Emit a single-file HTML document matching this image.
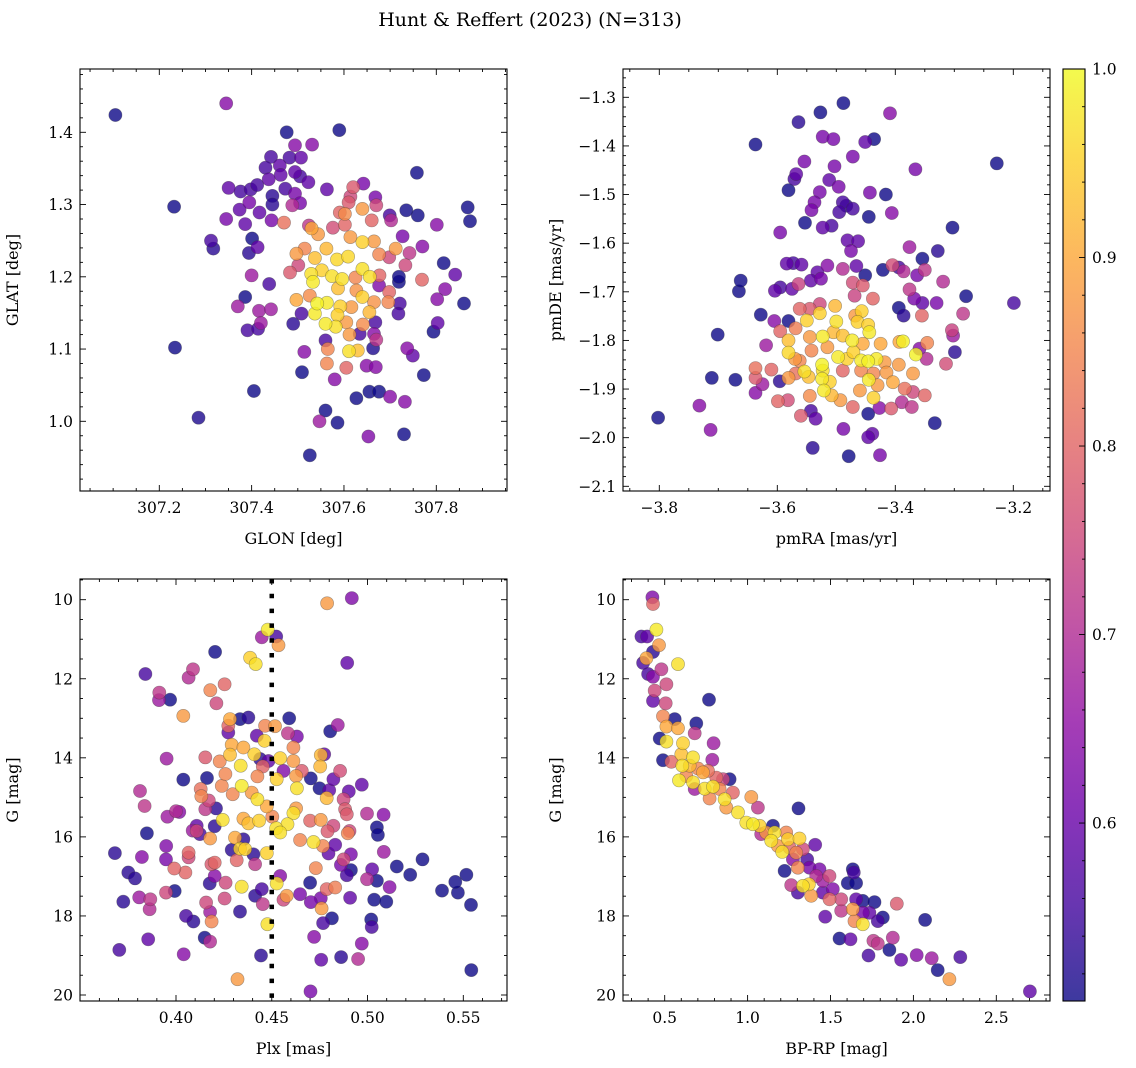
<!DOCTYPE html>
<html><head><meta charset="utf-8"><style>
html,body{margin:0;padding:0;background:#fff;}
svg{display:block;font-family:"DejaVu Serif","Liberation Serif",serif;}
</style></head><body>
<svg id="fig" width="1136" height="1068" viewBox="0 0 1136 1068" xmlns="http://www.w3.org/2000/svg">
<defs>
<linearGradient id="plasma" x1="0" y1="1" x2="0" y2="0">
<stop offset="0" stop-color="#0d0887"/><stop offset="0.1" stop-color="#41049d"/><stop offset="0.2" stop-color="#6a00a8"/><stop offset="0.3" stop-color="#8f0da4"/><stop offset="0.4" stop-color="#b12a90"/><stop offset="0.5" stop-color="#cc4778"/><stop offset="0.6" stop-color="#e16462"/><stop offset="0.7" stop-color="#f2844b"/><stop offset="0.8" stop-color="#fca636"/><stop offset="0.9" stop-color="#fcce25"/><stop offset="1" stop-color="#f0f921"/>
</linearGradient>
</defs>
<text x="530" y="26" font-size="19" text-anchor="middle">Hunt &amp; Reffert (2023) (N=313)</text>
<g id="root"></g>
</svg>
<script>
// Panel 1: GLON vs GLAT
const p1Glon=[307.105,307.345,307.232,307.234,307.285,307.405,307.526,307.560,307.547,307.586,307.653,307.730,307.627,307.655,307.676,307.700,307.732,307.773,307.509,307.580,307.605,307.563,307.649,307.669,307.514,307.737,307.749,307.663,307.794,307.803,307.860,307.819,307.802,307.841,307.769,307.816,307.770,307.801,307.868,307.873,307.760,307.735,307.758,307.590,307.476,307.494,307.531,307.482,307.507,307.442,307.430,307.461,307.463,307.494,307.505,307.523,307.437,307.350,307.376,307.398,307.412,307.445,307.473,307.494,307.395,307.374,307.417,307.445,307.488,307.505,307.345,307.386,307.443,307.470,307.563,307.642,307.620,307.614,307.610,307.668,307.670,307.640,307.602,307.591,307.660,307.699,307.702,307.524,307.576,307.602,307.312,307.317,307.401,307.413,307.394,307.400,307.438,307.386,307.370,307.416,307.442,307.420,307.391,307.414,307.490,307.727,307.742,307.733,307.719,307.719,307.721,307.718,307.698,307.696,307.677,307.698,307.712,307.668,307.665,307.670,
307.530,307.544,307.497,307.515,307.537,307.562,307.585,307.609,307.640,307.665,307.676,307.614,307.529,307.552,307.574,307.596,307.640,307.656,307.625,307.533,307.587,307.627,307.640,307.497,307.526,307.542,307.563,307.537,307.592,307.586,307.616,307.655,307.560,307.582,307.605,307.641,307.612,307.611,307.630,307.565,307.483,307.665,307.508,307.560,307.634,307.501,307.676];
const p1Glat=[1.424,1.440,1.297,1.102,1.005,1.042,0.953,1.015,1.000,0.998,0.979,0.982,1.032,1.041,1.041,1.034,1.027,1.064,1.068,1.058,1.074,1.080,1.077,1.075,1.096,1.101,1.091,1.101,1.124,1.136,1.163,1.183,1.169,1.203,1.196,1.219,1.242,1.272,1.296,1.277,1.285,1.292,1.344,1.403,1.400,1.382,1.383,1.365,1.365,1.366,1.351,1.354,1.341,1.345,1.339,1.331,1.335,1.323,1.318,1.321,1.327,1.312,1.322,1.315,1.303,1.293,1.289,1.300,1.299,1.302,1.280,1.273,1.278,1.275,1.321,1.329,1.324,1.311,1.303,1.310,1.299,1.294,1.287,1.289,1.278,1.285,1.278,1.271,1.268,1.272,1.250,1.239,1.253,1.241,1.233,1.202,1.190,1.172,1.159,1.153,1.155,1.136,1.126,1.128,1.135,1.256,1.233,1.216,1.200,1.193,1.163,1.149,1.179,1.165,1.202,1.227,1.239,1.137,1.121,1.113,
1.267,1.259,1.232,1.239,1.226,1.239,1.224,1.228,1.248,1.249,1.231,1.255,1.204,1.209,1.201,1.197,1.211,1.200,1.199,1.193,1.184,1.181,1.172,1.168,1.174,1.163,1.164,1.149,1.159,1.147,1.158,1.151,1.135,1.131,1.137,1.134,1.120,1.097,1.098,1.100,1.206,1.165,1.149,1.112,1.121,1.216,1.188];
const p1Prob=[0.49,0.64,0.49,0.49,0.52,0.49,0.49,0.49,0.67,0.49,0.63,0.50,0.50,0.50,0.50,0.64,0.64,0.49,0.50,0.64,0.80,0.85,0.64,0.64,0.64,0.64,0.59,0.52,0.50,0.59,0.50,0.64,0.64,0.59,0.80,0.50,0.64,0.64,0.50,0.50,0.50,0.50,0.50,0.50,0.50,0.64,0.64,0.56,0.59,0.56,0.56,0.59,0.59,0.59,0.56,0.59,0.59,0.59,0.56,0.56,0.56,0.53,0.56,0.62,0.62,0.59,0.59,0.53,0.70,0.62,0.62,0.59,0.62,0.82,0.59,0.62,0.78,0.75,0.78,0.62,0.75,0.88,0.86,0.80,0.80,0.56,0.70,0.72,0.76,0.80,0.56,0.53,0.50,0.59,0.53,0.67,0.56,0.50,0.67,0.67,0.67,0.67,0.56,0.56,0.53,0.62,0.72,0.75,0.50,0.46,0.56,0.56,0.80,0.85,0.80,0.75,0.88,0.56,0.64,0.72,
0.90,0.88,0.88,0.85,0.93,0.92,0.96,0.96,0.95,0.88,0.85,0.88,0.97,0.95,0.97,0.97,0.97,0.97,0.85,0.98,0.93,0.87,0.95,0.90,0.86,0.99,0.98,0.98,0.95,0.95,0.88,0.92,0.98,0.97,0.88,0.86,0.88,0.97,0.93,0.85,0.78,0.87,0.56,0.56,0.56,0.75,0.63];

// Panel 2: pmRA vs pmDE
const p2Pmra=[-3.802,-3.732,-3.713,-3.711,-3.671,-3.701,-3.665,-3.662,-3.637,-3.564,-3.527,-3.488,-3.409,-3.523,-3.505,-3.451,-3.436,-3.472,-3.554,-3.503,-3.366,-3.228,-3.568,-3.571,-3.512,-3.496,-3.581,-3.528,-3.443,-3.416,-3.537,-3.542,-3.489,-3.483,-3.495,-3.472,-3.406,-3.445,-3.553,-3.523,-3.508,-3.595,-3.303,-3.481,-3.463,-3.475,-3.376,-3.328,-3.354,-3.584,-3.573,-3.559,-3.515,-3.489,-3.466,-3.421,-3.405,-3.394,-3.386,-3.363,-3.350,-3.319,-3.451,-3.532,-3.543,-3.526,-3.564,-3.604,-3.595,-3.575,-3.472,-3.455,-3.469,-3.438,-3.376,-3.368,-3.354,-3.330,-3.280,-3.199,-3.394,-3.386,-3.355,-3.285,-3.304,-3.302,-3.299,-3.314,-3.346,-3.359,-3.347,-3.333,-3.350,-3.370,-3.372,-3.389,-3.407,-3.427,-3.439,-3.446,-3.426,-3.479,-3.540,-3.488,-3.535,-3.543,-3.560,-3.446,-3.599,-3.582,-3.637,-3.625,-3.637,-3.637,-3.610,-3.596,-3.619,-3.628,-3.605,-3.581,-3.595,
-3.562,-3.545,-3.528,-3.502,-3.457,-3.468,-3.550,-3.528,-3.500,-3.464,-3.446,-3.444,-3.569,-3.581,-3.581,-3.570,-3.545,-3.523,-3.505,-3.489,-3.473,-3.455,-3.425,-3.393,-3.387,-3.542,-3.515,-3.497,-3.482,-3.471,-3.458,-3.446,-3.432,-3.418,-3.365,-3.562,-3.524,-3.523,-3.554,-3.569,-3.581,-3.547,-3.524,-3.511,-3.489,-3.458,-3.437,-3.415,-3.394,-3.370,-3.404,-3.445,-3.521,-3.508,-3.493,-3.460,-3.437,-3.430,-3.384,-3.472,-3.545];
const p2Pmde=[-1.959,-1.934,-1.984,-1.877,-1.881,-1.788,-1.699,-1.677,-1.397,-1.351,-1.331,-1.312,-1.333,-1.381,-1.386,-1.392,-1.386,-1.422,-1.432,-1.442,-1.448,-1.436,-1.458,-1.468,-1.470,-1.484,-1.491,-1.495,-1.496,-1.500,-1.516,-1.532,-1.516,-1.523,-1.536,-1.529,-1.538,-1.546,-1.558,-1.568,-1.564,-1.578,-1.568,-1.594,-1.596,-1.616,-1.608,-1.616,-1.632,-1.642,-1.641,-1.644,-1.646,-1.653,-1.647,-1.655,-1.645,-1.650,-1.658,-1.666,-1.655,-1.679,-1.666,-1.660,-1.677,-1.673,-1.684,-1.698,-1.691,-1.694,-1.681,-1.687,-1.708,-1.714,-1.695,-1.714,-1.723,-1.723,-1.709,-1.723,-1.733,-1.749,-1.749,-1.745,-1.779,-1.790,-1.824,-1.848,-1.805,-1.817,-1.838,-1.970,-1.913,-1.906,-1.937,-1.927,-1.940,-1.939,-1.992,-1.999,-2.036,-2.038,-2.021,-1.982,-1.961,-1.945,-1.955,-1.951,-1.925,-1.923,-1.908,-1.890,-1.877,-1.857,-1.860,-1.884,-1.810,-1.747,-1.760,-1.760,-1.781,
-1.735,-1.735,-1.725,-1.729,-1.740,-1.749,-1.759,-1.744,-1.761,-1.762,-1.768,-1.783,-1.775,-1.800,-1.825,-1.838,-1.793,-1.792,-1.783,-1.790,-1.800,-1.807,-1.807,-1.803,-1.802,-1.821,-1.814,-1.834,-1.838,-1.824,-1.841,-1.843,-1.838,-1.845,-1.829,-1.842,-1.850,-1.862,-1.864,-1.868,-1.877,-1.875,-1.879,-1.885,-1.862,-1.862,-1.868,-1.866,-1.850,-1.868,-1.886,-1.881,-1.903,-1.913,-1.923,-1.903,-1.918,-1.892,-1.899,-1.937,-1.914];
const p2Prob=[0.49,0.64,0.64,0.49,0.49,0.49,0.50,0.50,0.50,0.53,0.50,0.50,0.64,0.62,0.62,0.59,0.50,0.62,0.62,0.62,0.62,0.49,0.59,0.56,0.59,0.62,0.50,0.62,0.62,0.50,0.62,0.62,0.56,0.53,0.56,0.56,0.64,0.50,0.50,0.59,0.56,0.62,0.50,0.59,0.59,0.62,0.67,0.53,0.50,0.59,0.56,0.59,0.64,0.70,0.59,0.50,0.76,0.56,0.70,0.62,0.72,0.70,0.50,0.59,0.59,0.62,0.74,0.59,0.56,0.59,0.76,0.78,0.74,0.80,0.72,0.62,0.59,0.62,0.50,0.56,0.50,0.53,0.80,0.72,0.74,0.67,0.53,0.76,0.85,0.64,0.70,0.50,0.80,0.75,0.72,0.70,0.78,0.64,0.59,0.59,0.62,0.50,0.53,0.62,0.59,0.56,0.78,0.50,0.80,0.76,0.64,0.67,0.78,0.82,0.80,0.53,0.67,0.50,0.64,0.50,0.80,
0.80,0.78,0.75,0.92,0.95,0.88,0.95,0.95,0.97,0.95,0.95,0.98,0.84,0.93,0.96,0.88,0.88,0.98,0.92,0.93,0.98,0.90,0.90,0.90,0.99,0.85,0.88,0.98,0.95,0.95,0.98,0.99,0.98,0.88,0.99,0.85,0.99,0.97,0.97,0.82,0.88,0.93,0.98,0.95,0.80,0.85,0.85,0.88,0.88,0.88,0.90,0.98,0.98,0.92,0.88,0.88,0.95,0.88,0.82,0.80,0.86];

// Panel 3: Plx vs G
const p3Plx=[0.4918,0.4789,0.4479,0.4448,0.4523,0.4535,0.4387,0.4416,0.4204,0.4894,0.3840,0.4089,0.4066,0.3913,0.3911,0.3969,0.4179,0.4254,0.4211,0.4038,0.3951,0.3812,0.3836,0.3848,0.3681,0.3822,0.3751,0.3786,0.3725,0.3808,0.3866,0.3862,0.3704,0.3855,0.4040,0.4321,0.4444,0.4702,0.4758,0.4862,0.4951,0.4970,0.4721,0.5019,0.5022,0.4814,0.4768,0.4760,0.4477,0.4334,0.4186,0.4178,0.4157,0.4091,0.4052,0.4150,0.4178,0.3993,0.3948,0.4049,0.3991,0.4066,0.4066,0.3948,0.3949,0.3955,0.4000,0.4017,0.4038,0.4162,0.4153,0.4087,0.4108,0.4125,0.4178,0.4209,0.4244,0.4202,0.4132,0.4129,0.4171,0.4153,0.4239,0.4258,0.4228,0.4282,0.4291,0.4282,0.4273,0.4334,0.4378,0.4273,0.4352,0.4409,0.4462,0.4422,0.4465,0.4517,0.4591,0.4584,0.4631,0.4613,0.4544,0.4613,0.4338,0.4343,0.4395,0.4296,0.4453,0.4425,0.4526,0.4561,0.4627,0.4657,0.4631,0.4704,0.4749,0.4800,0.4822,0.4857,0.4756,0.4774,0.4753,0.4805,0.4845,0.4902,0.4970,0.4787,0.4875,0.4883,0.4892,0.4997,0.5084,0.5049,0.5054,0.4906,0.4897,0.4791,0.4822,0.4756,0.4700,0.4627,0.4613,0.4582,0.4523,0.4544,0.4503,0.4434,0.4425,0.4474,0.4352,0.4378,0.4308,0.4352,0.4334,0.4361,0.4291,0.4317,0.4404,0.4474,0.4413,0.4648,0.4718,0.4767,0.4796,0.4831,0.4913,0.4875,0.4861,0.4913,0.4892,0.5024,0.4997,0.5049,0.5115,0.5153,0.5223,0.5287,0.5085,0.5389,0.5458,0.5472,0.5516,0.5540,0.5542,0.5035,0.5098,0.4909,0.4831,0.4787,0.4756,0.4704,0.4700,0.4648,0.4730,0.4578,0.4561,0.4526,0.4544,0.4448,0.4413,0.4453,0.4343,0.4254,0.4259,0.4202,0.4176,0.4202,0.4185,0.4108,0.4439,0.4483];
const p3Gmag=[9.96,10.09,10.76,10.95,10.93,11.15,11.47,11.63,11.32,11.60,11.88,11.76,11.97,12.35,12.54,12.53,12.29,12.14,12.62,12.94,14.02,14.84,15.22,15.91,16.41,16.51,16.90,17.05,17.64,17.53,17.58,17.83,18.86,18.59,18.97,19.60,19.00,19.91,19.11,19.04,19.09,18.70,18.53,18.09,18.28,18.06,18.18,17.81,18.21,17.89,18.14,17.90,17.66,18.14,18.00,18.55,18.65,17.37,17.41,16.90,16.80,16.40,16.52,16.57,16.23,15.49,15.35,15.37,14.55,14.51,13.99,15.84,15.72,15.93,16.04,15.28,15.57,15.73,14.97,14.79,15.08,15.30,14.71,14.41,14.09,13.92,13.67,13.02,13.19,13.02,12.98,13.36,13.74,13.91,13.57,13.44,13.19,13.20,13.00,13.38,13.46,13.74,14.01,14.08,14.20,14.71,14.88,14.92,14.22,14.47,14.54,14.33,14.46,14.33,14.77,14.52,14.77,14.82,14.54,14.33,13.93,13.91,14.22,13.33,13.17,14.85,14.68,15.02,15.05,15.30,15.43,15.41,15.44,15.76,15.95,15.85,15.91,15.86,15.72,15.57,15.59,15.28,15.40,15.68,15.78,15.89,15.49,15.59,15.05,15.23,15.54,15.66,16.02,16.06,16.30,16.31,16.33,16.59,16.44,16.41,16.69,16.08,16.13,16.23,16.42,16.20,16.44,16.57,16.71,16.84,16.97,16.82,17.07,17.11,17.27,16.75,16.96,16.57,16.38,17.36,17.14,17.41,16.96,17.72,19.37,17.59,17.64,17.54,17.28,17.32,17.55,17.65,17.16,17.45,16.79,17.49,17.59,17.18,16.99,17.32,17.49,17.70,17.26,17.56,17.16,16.99,17.18,16.65,16.69,15.85,14.03,14.08];
const p3Prob=[0.63,0.88,0.98,0.67,0.56,0.88,0.95,0.97,0.50,0.59,0.56,0.72,0.70,0.72,0.67,0.50,0.85,0.80,0.75,0.88,0.67,0.70,0.72,0.50,0.53,0.64,0.53,0.53,0.53,0.67,0.72,0.70,0.56,0.59,0.64,0.88,0.53,0.62,0.59,0.53,0.70,0.64,0.64,0.49,0.56,0.50,0.56,0.88,0.97,0.53,0.85,0.67,0.75,0.53,0.56,0.50,0.70,0.50,0.75,0.80,0.80,0.80,0.75,0.62,0.63,0.67,0.70,0.64,0.50,0.50,0.78,0.67,0.59,0.56,0.88,0.53,0.97,0.53,0.85,0.82,0.75,0.72,0.85,0.85,0.85,0.93,0.90,0.90,0.80,0.50,0.53,0.59,0.90,0.95,0.95,0.59,0.85,0.88,0.50,0.72,0.62,0.85,0.95,0.88,0.97,0.98,0.88,0.85,0.80,0.85,0.95,0.63,0.88,0.78,0.97,0.50,0.50,0.59,0.59,0.76,0.92,0.59,0.92,0.50,0.67,0.59,0.59,0.92,0.75,0.78,0.78,0.70,0.64,0.50,0.50,0.75,0.85,0.78,0.75,0.88,0.80,0.88,0.97,0.97,0.97,0.97,0.85,0.95,0.97,0.90,0.90,0.93,0.90,0.53,0.95,0.95,0.53,0.80,0.53,0.95,0.72,0.85,0.97,0.85,0.59,0.59,0.62,0.75,0.62,0.50,0.56,0.59,0.70,0.50,0.64,0.50,0.50,0.50,0.67,0.49,0.50,0.49,0.49,0.49,0.49,0.50,0.50,0.59,0.84,0.80,0.62,0.62,0.50,0.62,0.85,0.88,0.75,0.97,0.64,0.56,0.53,0.72,0.97,0.75,0.75,0.64,0.53,0.80,0.78,0.75,0.53,0.59];

// Panel 4: BP-RP vs G
const p4Bprp=[0.4257,0.4297,0.4498,0.3594,0.3936,0.4659,0.5803,0.3896,0.4297,0.3695,0.4799,0.3996,0.4297,0.5100,0.4398,0.4297,0.5060,0.7671,0.4900,0.5602,0.6908,0.5100,0.5803,0.6807,0.4699,0.5100,0.6104,0.7952,0.4900,0.5402,0.6004,0.6707,0.7871,0.6064,0.7008,0.7610,0.6305,0.5863,0.6707,0.7410,0.7912,0.8514,0.8916,0.8112,0.6807,0.7711,0.8614,0.9116,1.0221,1.0622,1.3072,0.8715,0.9418,0.9920,1.0321,1.0723,1.0823,1.1526,1.1627,1.2329,1.2430,1.3133,1.4076,1.1827,1.2088,1.2932,1.3594,1.2731,1.2229,1.3032,1.3735,1.4337,1.4940,1.6345,1.6406,1.6044,1.6546,1.3333,1.3695,1.2631,1.3032,1.3835,1.4538,1.5141,1.4940,1.5643,1.5643,1.6345,1.6546,1.6948,1.7651,1.8996,1.6948,1.7349,1.6446,1.6948,1.7851,1.8153,2.0703,1.4679,1.5542,1.6205,1.7289,1.7590,1.7851,1.8554,1.8755,1.9257,2.0201,2.1104,2.1466,2.2831,2.2169,2.7028,0.6506,0.7309,0.8313,1.1124,1.1426,1.3333,1.2530,1.4137,1.4538];
const p4Gmag=[9.94,10.11,10.76,10.93,10.93,11.15,11.63,11.48,11.32,11.60,11.76,11.88,11.95,12.14,12.30,12.56,12.62,12.53,12.95,13.02,13.13,13.21,13.25,13.38,13.51,13.59,13.63,13.63,14.06,14.10,13.91,13.99,14.05,14.20,14.27,14.33,14.46,14.57,14.62,14.78,14.73,14.54,14.54,14.50,14.79,15.03,15.05,14.88,14.99,15.26,15.28,15.26,15.38,15.64,15.68,15.72,15.93,15.72,15.89,15.89,16.06,16.04,16.20,16.23,16.38,16.40,16.57,16.57,16.86,16.78,16.78,16.82,16.99,16.82,16.90,17.17,17.17,17.24,17.20,17.22,17.41,17.49,17.41,17.32,17.58,17.58,17.87,17.83,17.58,17.62,17.65,17.69,17.92,17.92,18.13,18.21,18.13,18.04,18.10,18.02,18.57,18.59,19.00,18.63,18.70,18.86,18.55,19.11,18.99,19.07,19.37,19.04,19.60,19.91,14.20,14.37,14.79,15.89,16.10,16.31,16.27,16.99,17.11];
const p4Prob=[0.63,0.80,0.98,0.56,0.59,0.88,0.97,0.90,0.53,0.56,0.72,0.56,0.64,0.75,0.75,0.59,0.75,0.49,0.85,0.50,0.50,0.90,0.90,0.72,0.50,0.97,0.95,0.67,0.50,0.80,0.93,0.97,0.67,0.97,0.85,0.82,0.85,0.98,0.97,0.97,0.97,0.75,0.50,0.80,0.67,0.85,0.97,0.80,0.88,0.72,0.50,0.88,0.97,0.97,0.98,0.95,0.70,0.50,0.97,0.85,0.95,0.95,0.59,0.88,0.97,0.85,0.56,0.64,0.50,0.85,0.62,0.62,0.75,0.50,0.56,0.50,0.50,0.97,0.95,0.72,0.56,0.88,0.59,0.63,0.80,0.75,0.72,0.88,0.59,0.50,0.50,0.78,0.62,0.59,0.85,0.97,0.56,0.50,0.50,0.59,0.50,0.59,0.56,0.72,0.72,0.50,0.70,0.59,0.64,0.67,0.50,0.56,0.88,0.59,0.92,0.90,0.85,0.88,0.97,0.75,0.80,0.70,0.67];

const cbTicks=[0.6,0.7,0.8,0.9,1.0];
const cbMin=0.5056, cbMax=1.0;

const NS='http://www.w3.org/2000/svg';
const root=document.getElementById('root');
function mk(tag,attrs,parent){const e=document.createElementNS(NS,tag);for(const k in attrs)e.setAttribute(k,attrs[k]);(parent||root).appendChild(e);return e;}
function lin(d0,p0,d1,p1){return v=>p0+(v-d0)*(p1-p0)/(d1-d0);}
const stops=[[13,8,135],[65,4,157],[106,0,168],[143,13,164],[177,42,144],[204,71,120],[225,100,98],[242,132,75],[252,166,54],[252,206,37],[240,249,33]];
function plasma(t){t=Math.max(0,Math.min(1,t));const f=t*10,i=Math.min(9,Math.floor(f)),u=f-i;const a=stops[i],b=stops[i+1];return 'rgb('+a.map((c,k)=>Math.round(c+(b[k]-c)*u)).join(',')+')';}
function pcol(p){return plasma((p-cbMin)/(cbMax-cbMin));}

const panels=[
 {name:'glon-glat',L:80,R:507,T:69,B:491,x:lin(307.2,159.3,307.8,436.3),y:lin(1.4,132.3,1.0,421.3),
  xt:[307.2,307.4,307.6,307.8],xl:['307.2','307.4','307.6','307.8'],xmin:0.05,yt:[1.0,1.1,1.2,1.3,1.4],yl:['1.0','1.1','1.2','1.3','1.4'],ymin:0.02,
  xd:[307.0,308.0],yd:[0.9,1.5],xs:p1Glon,ys:p1Glat,ps:p1Prob,xlab:'GLON [deg]',ylab:'GLAT [deg]'},
 {name:'pmra-pmde',L:623,R:1050,T:69,B:491,x:lin(-3.8,659.3,-3.2,1013.3),y:lin(-1.3,97.3,-2.1,486.3),
  xt:[-3.8,-3.6,-3.4,-3.2],xl:['\u22123.8','\u22123.6','\u22123.4','\u22123.2'],xmin:0.05,yt:[-1.3,-1.4,-1.5,-1.6,-1.7,-1.8,-1.9,-2.0,-2.1],yl:['\u22121.3','\u22121.4','\u22121.5','\u22121.6','\u22121.7','\u22121.8','\u22121.9','\u22122.0','\u22122.1'],ymin:0.02,
  xd:[-3.9,-3.1],yd:[-2.2,-1.2],xs:p2Pmra,ys:p2Pmde,ps:p2Prob,xlab:'pmRA [mas/yr]',ylab:'pmDE [mas/yr]'},
 {name:'plx-g',L:80,R:507,T:579,B:1001,x:lin(0.40,176,0.55,463.3),y:lin(10,599.7,20,995),
  xt:[0.40,0.45,0.50,0.55],xl:['0.40','0.45','0.50','0.55'],xmin:0.01,yt:[10,12,14,16,18,20],yl:['10','12','14','16','18','20'],ymin:0.5,
  xd:[0.34,0.58],yd:[9,21],xs:p3Plx,ys:p3Gmag,ps:p3Prob,xlab:'Plx [mas]',ylab:'G [mag]',vline:0.45},
 {name:'bprp-g',L:623,R:1050,T:579,B:1001,x:lin(0.5,664.7,2.5,996.3),y:lin(10,599.7,20,995),
  xt:[0.5,1.0,1.5,2.0,2.5],xl:['0.5','1.0','1.5','2.0','2.5'],xmin:0.1,yt:[10,12,14,16,18,20],yl:['10','12','14','16','18','20'],ymin:0.5,
  xd:[0.2,2.9],yd:[9,21],xs:p4Bprp,ys:p4Gmag,ps:p4Prob,xlab:'BP-RP [mag]',ylab:'G [mag]'}
];

panels.forEach((P,pi)=>{
 const g=mk('g',{});
 
 
 const cid='clip'+pi;
 const cp=mk('clipPath',{id:cid},g);mk('rect',{x:P.L,y:P.T,width:P.R-P.L,height:P.B-P.T},cp);
 const pts=mk('g',{'clip-path':'url(#'+cid+')'},g);
 
 
 const idx=P.xs.map((_,i)=>i).sort((a,b)=>P.ps[a]-P.ps[b]);
 idx.forEach(i=>{
  const c=mk('circle',{cx:P.x(P.xs[i]).toFixed(1),cy:P.y(P.ys[i]).toFixed(1),r:6.6,fill:pcol(P.ps[i]),'fill-opacity':0.8,stroke:'rgba(60,60,60,0.45)','stroke-width':0.6},pts);
  
  
 });
 if(P.vline!==undefined){
  const vx=P.x(P.vline);
  const vl=mk('line',{x1:vx,x2:vx,y1:P.T,y2:P.B,stroke:'#000','stroke-width':4.5,'stroke-dasharray':'4.5 10.3'},g);
  
  
 }
 const fr=mk('rect',{x:P.L,y:P.T,width:P.R-P.L,height:P.B-P.T,fill:'none',stroke:'#000','stroke-width':1.1},g);
 
 
 const tg=mk('g',{stroke:'#000','stroke-width':0.9},g);
 
 
 const xlo=Math.min(P.xd[0],P.xd[1]), xhi=Math.max(P.xd[0],P.xd[1]);
 for(let k=Math.ceil(xlo/P.xmin-1e-6);k*P.xmin<=xhi;k++){const v=k*P.xmin,px=P.x(v);if(px<P.L+0.5||px>P.R-0.5)continue;
  const major=P.xt.some(t=>Math.abs(t-v)<1e-6);const len=major?6:3;
  mk('line',{x1:px,x2:px,y1:P.B,y2:P.B-len},tg);mk('line',{x1:px,x2:px,y1:P.T,y2:P.T+len},tg);}
 for(let k=Math.ceil(P.yd[0]/P.ymin-1e-6);k*P.ymin<=P.yd[1];k++){const v=k*P.ymin,py=P.y(v);if(py<P.T+0.5||py>P.B-0.5)continue;
  const major=P.yt.some(t=>Math.abs(t-v)<1e-6);const len=major?6:3;
  mk('line',{x1:P.L,x2:P.L+len,y1:py,y2:py},tg);mk('line',{x1:P.R,x2:P.R-len,y1:py,y2:py},tg);}
 P.xt.forEach((v,i)=>{const t=mk('text',{x:P.x(v),y:P.B+22,'font-size':15.5,'text-anchor':'middle'},g);t.textContent=P.xl[i];
  
  });
 P.yt.forEach((v,i)=>{const t=mk('text',{x:P.L-7,y:P.y(v)+5.5,'font-size':15.5,'text-anchor':'end'},g);t.textContent=P.yl[i];
  
  });
 const xl=mk('text',{x:(P.L+P.R)/2,y:P.B+53,'font-size':16,'text-anchor':'middle'},g);xl.textContent=P.xlab;
 
 
 const yx=P.L-62, yy=(P.T+P.B)/2;
 const yl=mk('text',{x:yx,y:yy,'font-size':16,'text-anchor':'middle',transform:'rotate(-90 '+yx+' '+yy+')'},g);yl.textContent=P.ylab;
 
 
});

const cb=mk('g',{});


const cbL=1063,cbR=1085,cbT=69,cbB=1001;
const cy=lin(cbMin,cbB,cbMax,cbT);
mk('rect',{x:cbL,y:cbT,width:cbR-cbL,height:cbB-cbT,fill:'url(#plasma)','fill-opacity':0.8},cb);
mk('rect',{x:cbL,y:cbT,width:cbR-cbL,height:cbB-cbT,fill:'none',stroke:'#000','stroke-width':1.1},cb);
for(let k=Math.ceil(cbMin/0.02);k*0.02<=cbMax+1e-6;k++){const v=k*0.02,py=cy(v);const major=cbTicks.some(t=>Math.abs(t-v)<1e-6);
 mk('line',{x1:cbR,x2:cbR-(major?6:3),y1:py,y2:py,stroke:'#000','stroke-width':0.9},cb);}
cbTicks.forEach(v=>{const t=mk('text',{x:cbR+7,y:cy(v)+5.5,'font-size':15.5},cb);t.textContent=v.toFixed(1);
 
 });
</script>
</body></html>
